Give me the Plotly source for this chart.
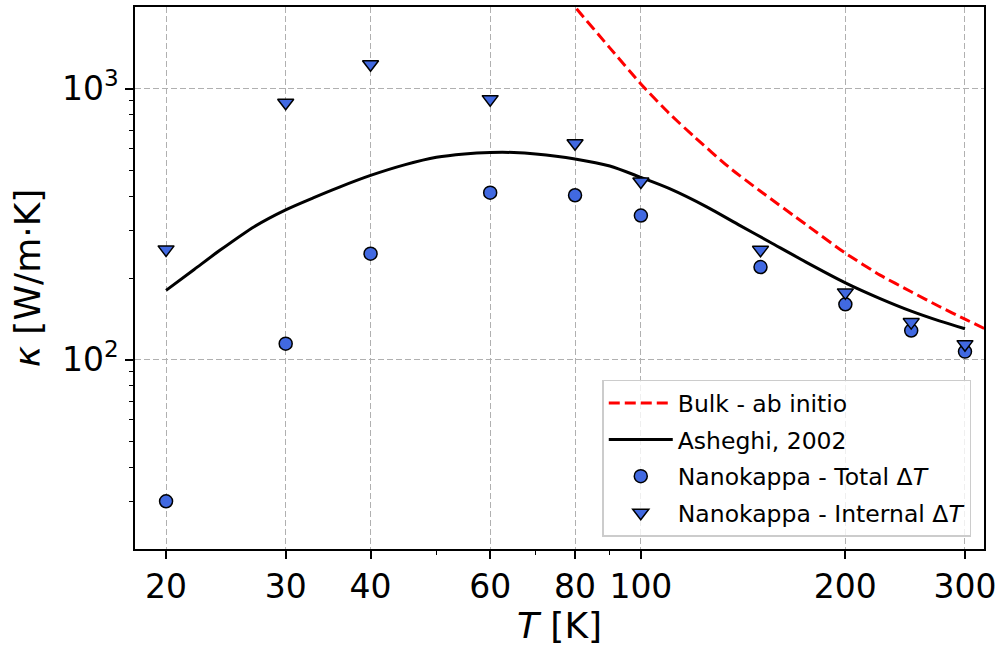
import plotly.graph_objects as go

# ---- data ----
T_points = [20, 30, 40, 60, 80, 100, 150, 200, 250, 300]
kappa_total = [30, 114.5, 246, 413, 404, 340, 219.5, 160, 128, 107]
kappa_internal = [255, 886, 1229, 914, 628, 454, 254, 177, 137.5, 114]

T_asheghi = [20, 22, 24, 27, 30, 33, 36, 40, 45, 50, 55, 60, 65, 70, 80, 90, 100,
             110, 125, 140, 155, 175, 200, 225, 250, 275, 300]
kappa_asheghi = [180, 215, 253, 310, 357, 396, 433, 478, 524, 558, 574, 581, 581, 574,
                 550, 518, 470, 428, 366, 312, 271, 229, 192, 168, 151, 139, 130]

T_bulk = [75, 80, 90, 100, 110, 120, 135, 150, 175, 200, 225, 250, 275, 300, 325]
kappa_bulk = [2420, 2000, 1413, 1040, 811, 662, 511, 418, 315, 247, 205, 178, 157, 141, 128]

x_tick_vals = [20, 30, 40, 60, 80, 100, 200, 300]
x_tick_text = ["20", "30", "40", "60", "80", "100", "200", "300"]
x_minor_vals = [50, 70, 90]
y_tick_vals = [100, 1000]
y_tick_text = ["10<sup>2</sup>", "10<sup>3</sup>"]
y_minor_vals = [30, 40, 50, 60, 70, 80, 90, 200, 300, 400, 500, 600, 700, 800, 900]

FONT = "DejaVu Sans"
BLUE = "#4169E1"

fig = go.Figure()
fig.add_trace(go.Scatter(
    x=T_bulk, y=kappa_bulk, mode="lines", name="Bulk - ab initio", legendgroup="a",
    line=dict(color="red", width=3, dash="11px,5px", shape="spline", smoothing=0.6)))
fig.add_trace(go.Scatter(
    x=T_asheghi, y=kappa_asheghi, mode="lines", name="Asheghi, 2002", legendgroup="b",
    line=dict(color="black", width=3, shape="spline", smoothing=0.8)))
fig.add_trace(go.Scatter(
    x=T_points, y=kappa_total, mode="markers", name="Nanokappa - Total Δ<i>T</i>",
    legendgroup="c",
    marker=dict(symbol="circle", size=13, color=BLUE, line=dict(color="black", width=1.5))))
fig.add_trace(go.Scatter(
    x=T_points, y=kappa_internal, mode="markers", name="Nanokappa - Internal Δ<i>T</i>",
    legendgroup="d",
    marker=dict(symbol="triangle-down", size=14, color=BLUE, line=dict(color="black", width=1.5))))

axis_common = dict(
    showline=True, linecolor="black", linewidth=1.5, mirror=True,
    ticks="outside", ticklen=8, tickwidth=1.5, tickcolor="black",
    showgrid=True, gridcolor="#b0b0b0", gridwidth=1, griddash="6px,3px",
    zeroline=False, tickfont=dict(family=FONT, size=33, color="black"),
)

fig.update_xaxes(
    type="log", range=[1.2553, 2.5051],
    tickmode="array", tickvals=x_tick_vals, ticktext=x_tick_text,
    minor=dict(tickmode="array", tickvals=x_minor_vals, ticks="outside", ticklen=4,
               tickwidth=1.2, tickcolor="black", showgrid=False),
    title=dict(text="<i>T</i> [K]", font=dict(family=FONT, size=36, color="black"), standoff=8),
    **axis_common)
fig.update_yaxes(
    type="log", range=[1.30103, 3.30103],
    tickmode="array", tickvals=y_tick_vals, ticktext=y_tick_text,
    minor=dict(tickmode="array", tickvals=y_minor_vals, ticks="outside", ticklen=4,
               tickwidth=1.2, tickcolor="black", showgrid=False),
    title=dict(text="<i>κ</i> [W/m·K]", font=dict(family=FONT, size=36, color="black"), standoff=10),
    **axis_common)

fig.update_layout(
    width=1001, height=646,
    margin=dict(l=135, r=14, t=5, b=97),
    paper_bgcolor="white", plot_bgcolor="white",
    font=dict(family=FONT, color="black"),
    showlegend=True,
    legend=dict(
        x=0.985, y=0.0226, xanchor="right", yanchor="bottom",
        bgcolor="rgba(255,255,255,0.8)", bordercolor="#cccccc", borderwidth=1.5,
        font=dict(family=FONT, size=23.5, color="black"),
        itemwidth=64, tracegroupgap=3,
    ),
)

fig.write_html("out.html")
